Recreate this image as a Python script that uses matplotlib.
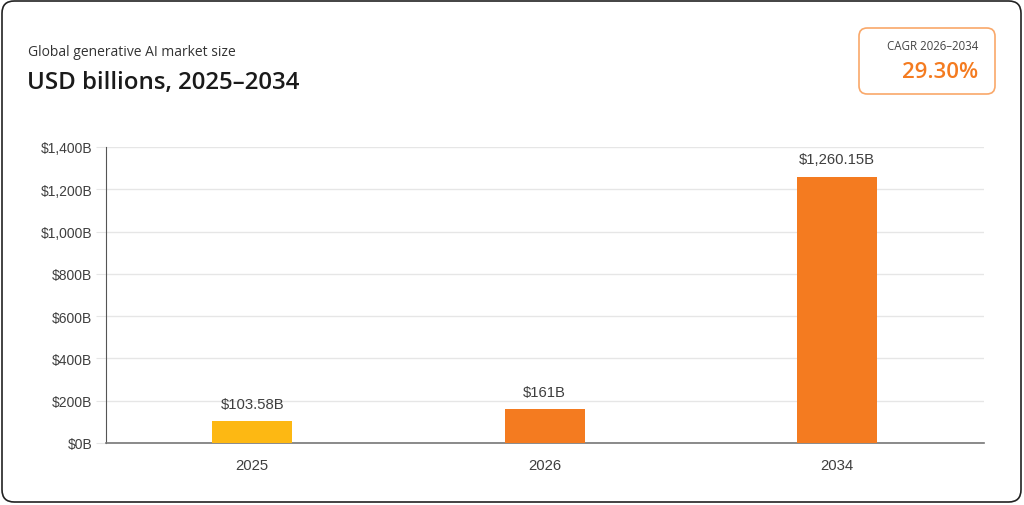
import matplotlib
matplotlib.use("Agg")
import matplotlib.pyplot as plt
from matplotlib.patches import FancyBboxPatch

years = ["2025", "2026", "2034"]
values = [103.58, 161.0, 1260.15]
value_labels = ["$103.58B", "$161B", "$1,260.15B"]
bar_colors = ["#FDB813", "#F47B20", "#F47B20"]
y_ticks = [0, 200, 400, 600, 800, 1000, 1200, 1400]
y_tick_labels = ["$0B", "$200B", "$400B", "$600B", "$800B", "$1,000B", "$1,200B", "$1,400B"]
subtitle = "Global generative AI market size"
title = "USD billions, 2025\u20132034"
cagr_label = "CAGR 2026\u20132034"
cagr_value = "29.30%"

W, H = 1024, 506
fig = plt.figure(figsize=(W / 100, H / 100), dpi=100)
fig.patch.set_facecolor("white")

def fx(px):
    return px / W

def fy(py):
    return 1 - py / H

# outer card border
card = FancyBboxPatch((fx(2), fy(503)), fx(1019), (503 - 2) / H,
                      boxstyle="round,pad=0,rounding_size=0.012",
                      transform=fig.transFigure, facecolor="none",
                      edgecolor="#222222", linewidth=1.2, mutation_aspect=W / H)
fig.patches.append(card)

# titles
fig.text(fx(28), fy(52), subtitle, fontsize=10, family="Open Sans",
         color="#333333", va="center", ha="left")
fig.text(fx(27), fy(83), title, fontsize=17.3, family="Open Sans",
         fontweight="semibold", color="#1a1a1a", va="center", ha="left")

# CAGR box
cbox = FancyBboxPatch((fx(859), fy(95)), fx(136), (95 - 29) / H,
                      boxstyle="round,pad=0,rounding_size=0.008",
                      transform=fig.transFigure, facecolor="none",
                      edgecolor="#F9A86A", linewidth=1.2, mutation_aspect=W / H)
fig.patches.append(cbox)
fig.text(fx(978), fy(46), cagr_label, fontsize=8.3, family="Open Sans",
         color="#444444", va="center", ha="right")
fig.text(fx(978), fy(73), cagr_value, fontsize=16, family="Open Sans",
         fontweight="semibold", color="#F47B20", va="center", ha="right")

# axes
ax = fig.add_axes([fx(106), fy(444), fx(983.5 - 106), (444 - 148) / H])
ax.set_facecolor("none")
x = list(range(len(years)))
ax.bar(x, values, width=0.273, color=bar_colors, zorder=3)
for xi, v, lab in zip(x, values, value_labels):
    ax.annotate(lab, (xi, v), xytext=(0, 7.5), textcoords="offset points",
                ha="center", va="bottom", fontsize=10.7,
                family="Liberation Sans", color="#3f3f3f")

ax.set_xlim(-0.5, 2.5)
ax.set_ylim(0, 1400)
ax.set_xticks(x)
ax.set_xticklabels(years)
ax.set_yticks(y_ticks)
ax.set_yticklabels(y_tick_labels)
ax.yaxis.grid(True, color="#E6E6E6", linewidth=1, zorder=0)
ax.set_axisbelow(True)
for lbl in ax.get_yticklabels():
    lbl.set_family("Liberation Sans")
    lbl.set_fontsize(10)
    lbl.set_color("#3f3f3f")
for lbl in ax.get_xticklabels():
    lbl.set_family("Liberation Sans")
    lbl.set_fontsize(10.7)
    lbl.set_color("#3f3f3f")
ax.tick_params(axis="y", length=7, color="#E6E6E6", pad=3)
ax.tick_params(axis="x", length=0, pad=11)
for s in ["top", "right"]:
    ax.spines[s].set_visible(False)
ax.spines["left"].set_color("#555555")
ax.spines["bottom"].set_color("#777777")
ax.spines["bottom"].set_linewidth(1.2)

fig.savefig("out.png", dpi=100, facecolor="white")
